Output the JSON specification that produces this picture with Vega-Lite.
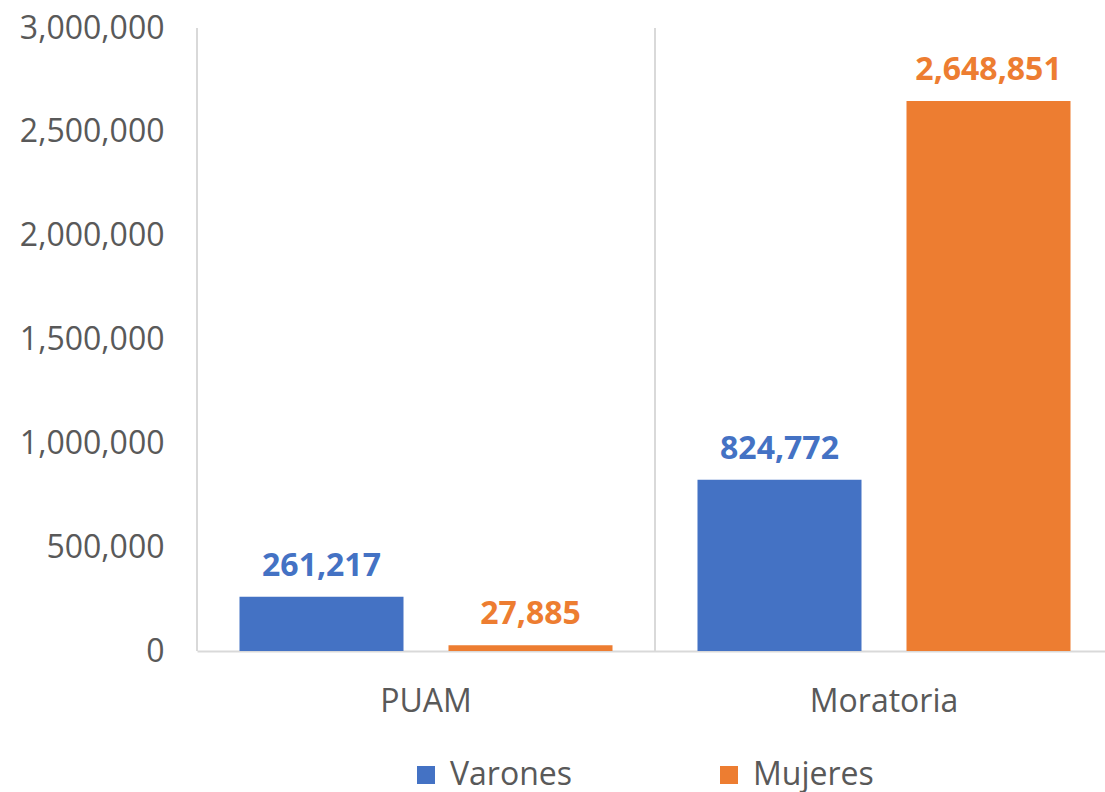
{
  "$schema": "https://vega.github.io/schema/vega-lite/v6.json",
  "width": 916,
  "height": 623,
  "autosize": {"type": "none"},
  "padding": {"left": 197, "top": 28, "right": 0, "bottom": 141},
  "background": "white",
  "config": {
    "view": {"stroke": null},
    "font": "Open Sans",
    "axis": {"labelColor": "#595959", "labelFont": "Open Sans", "labelFontSize": 32, "ticks": false, "grid": false}
  },
  "datasets": {
    "main": [
      {"cat": "PUAM", "sexo": "Varones", "valor": 261217},
      {"cat": "PUAM", "sexo": "Mujeres", "valor": 27885},
      {"cat": "Moratoria", "sexo": "Varones", "valor": 824772},
      {"cat": "Moratoria", "sexo": "Mujeres", "valor": 2648851}
    ],
    "seps": [{"cat": "PUAM"}, {"cat": "Moratoria"}]
  },
  "layer": [
    {
      "data": {"name": "seps"},
      "mark": {"type": "rule", "color": "#d9d9d9", "strokeWidth": 2},
      "encoding": {
        "x": {"field": "cat", "type": "nominal", "bandPosition": 0, "sort": ["PUAM", "Moratoria"]}
      }
    },
    {
      "data": {"name": "main"},
      "mark": {"type": "bar"},
      "encoding": {
        "x": {"field": "cat", "type": "nominal", "sort": ["PUAM", "Moratoria"], "title": null,
              "scale": {"paddingInner": 0, "paddingOuter": 0},
              "axis": {"labelAngle": 0, "labelAlign": "center", "labelPadding": 50, "domainColor": "#d9d9d9", "domainWidth": 2}},
        "xOffset": {"field": "sexo", "type": "nominal", "sort": ["Varones", "Mujeres"],
                    "scale": {"paddingInner": 0.2153, "paddingOuter": 0.2033}},
        "y": {"field": "valor", "type": "quantitative", "title": null,
              "scale": {"domain": [0, 3000000]},
              "axis": {"values": [0, 500000, 1000000, 1500000, 2000000, 2500000, 3000000], "format": ",.0f", "domain": false, "labelPadding": 33}},
        "color": {"field": "sexo", "type": "nominal", "sort": ["Varones", "Mujeres"],
                  "scale": {"domain": ["Varones", "Mujeres"], "range": ["#4472C4", "#ED7D31"]},
                  "legend": {"title": null, "orient": "none", "legendX": 213, "legendY": 731, "direction": "horizontal", "symbolType": "square", "symbolSize": 324, "symbolStrokeWidth": 0, "labelFontSize": 32, "labelColor": "#595959", "labelFont": "Open Sans", "columnPadding": 140, "symbolOffset": 0, "labelOffset": 8}}
      }
    },
    {
      "data": {"name": "main"},
      "mark": {"type": "text", "fontWeight": "bold", "fontSize": 32, "baseline": "alphabetic", "dy": -21, "font": "Open Sans"},
      "encoding": {
        "x": {"field": "cat", "type": "nominal", "sort": ["PUAM", "Moratoria"]},
        "xOffset": {"field": "sexo", "type": "nominal", "sort": ["Varones", "Mujeres"]},
        "y": {"field": "valor", "type": "quantitative"},
        "text": {"field": "valor", "type": "quantitative", "format": ",.0f"},
        "color": {"field": "sexo", "type": "nominal", "sort": ["Varones", "Mujeres"]}
      }
    }
  ]
}
